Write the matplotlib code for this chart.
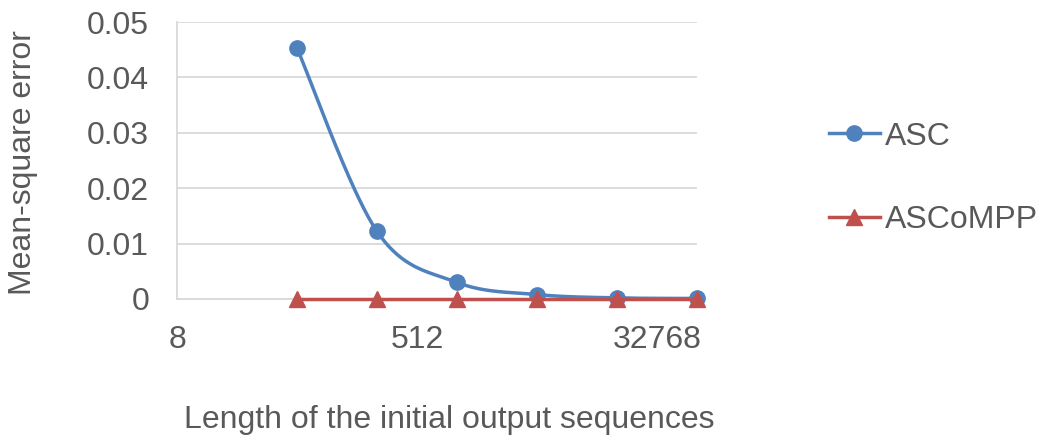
import numpy as np
import matplotlib
matplotlib.use("Agg")
import matplotlib.pyplot as plt
from matplotlib.lines import Line2D
from matplotlib.ticker import FixedLocator, FixedFormatter, MultipleLocator, FuncFormatter

# Sequence lengths (powers of two) and mean-square error per method
lengths = [64, 256, 1024, 4096, 16384, 65536]
asc_mse = [0.0453, 0.0122, 0.0030, 0.0008, 0.0002, 0.0001]
ascompp_mse = [0.0, 0.0, 0.0, 0.0, 0.0, 0.0]
x_tick_values = [8, 512, 32768]
x_tick_labels = ["8", "512", "32768"]

BLUE = "#4F81BD"
RED = "#C0504D"
TEXT = "#595959"
GRID = "#D9D9D9"
FS = 23
LW = 2.5
MS = 11

plt.rcParams["font.family"] = ["Liberation Sans", "DejaVu Sans"]


def smooth(xs, ys, n=40):
    """Cardinal-Bezier smoothing (Excel style) in the axis' linear space."""
    pts = np.column_stack([np.asarray(xs, float), np.asarray(ys, float)])
    out = []
    for i in range(len(pts) - 1):
        p0 = pts[i - 1] if i > 0 else pts[i]
        p1 = pts[i]
        p2 = pts[i + 1]
        p3 = pts[i + 2] if i + 2 < len(pts) else pts[i + 1]
        c1 = p1 + (p2 - p0) / 6.0
        c2 = p2 - (p3 - p1) / 6.0
        t = np.linspace(0, 1, n)[:, None]
        seg = ((1 - t) ** 3) * p1 + 3 * ((1 - t) ** 2) * t * c1 + 3 * (1 - t) * t ** 2 * c2 + t ** 3 * p2
        out.append(seg if i == 0 else seg[1:])
    seg = np.vstack(out)
    return seg[:, 0], seg[:, 1]


fig = plt.figure(figsize=(10.42, 4.41), dpi=100)
ax = fig.add_axes([177 / 1042, 1 - 299 / 441, (697 - 177) / 1042, (299 - 22) / 441])

ax.set_xscale("log", base=2)
ax.set_xlim(8, 65536)
ax.set_ylim(0, 0.05)

# ASC curve smoothed in log2 space, markers at the data points
sx, sy = smooth(np.log2(lengths), asc_mse)
ax.plot(2 ** sx, sy, color=BLUE, lw=LW, solid_capstyle="round", zorder=3)
ax.plot(lengths, asc_mse, linestyle="none", marker="o", ms=MS, color=BLUE,
        zorder=4, clip_on=False)

ax.plot(lengths, ascompp_mse, color=RED, lw=LW, marker="^", ms=MS, zorder=5,
        clip_on=False)

# Gridlines and spines
ax.yaxis.set_major_locator(MultipleLocator(0.01))
ax.yaxis.set_major_formatter(FuncFormatter(lambda v, p: "0" if abs(v) < 1e-12 else f"{v:.2f}"))
ax.grid(axis="y", color=GRID, lw=1.3, zorder=0)
ax.set_axisbelow(True)
for side in ["top", "right"]:
    ax.spines[side].set_visible(False)
for side in ["left", "bottom"]:
    ax.spines[side].set_color(GRID)
    ax.spines[side].set_linewidth(1.3)

ax.xaxis.set_major_locator(FixedLocator(x_tick_values))
ax.xaxis.set_major_formatter(FixedFormatter(x_tick_labels))
ax.xaxis.set_minor_locator(FixedLocator([]))
ax.tick_params(axis="both", length=0, labelsize=FS, labelcolor=TEXT)
ax.tick_params(axis="x", pad=19)
ax.tick_params(axis="y", pad=20)

fig.text(23 / 1042, 1 - 163 / 441, "Mean-square error", rotation=90,
         ha="center", va="center", fontsize=FS, color=TEXT)
fig.text(449 / 1042, 1 - 420 / 441, "Length of the initial output sequences",
         ha="center", va="center", fontsize=FS, color=TEXT)

# Legend entries
handles = [
    Line2D([], [], color=BLUE, lw=LW, marker="o", ms=MS),
    Line2D([], [], color=RED, lw=LW, marker="^", ms=MS),
]
fig.legend(handles, ["ASC", "ASCoMPP"], loc="center left",
           bbox_to_anchor=(800 / 1042, 1 - 178.5 / 441), frameon=False,
           fontsize=FS, labelcolor=TEXT, handlelength=1.6, handletextpad=0.15,
           labelspacing=1.69)

fig.savefig("out.png", dpi=100)
